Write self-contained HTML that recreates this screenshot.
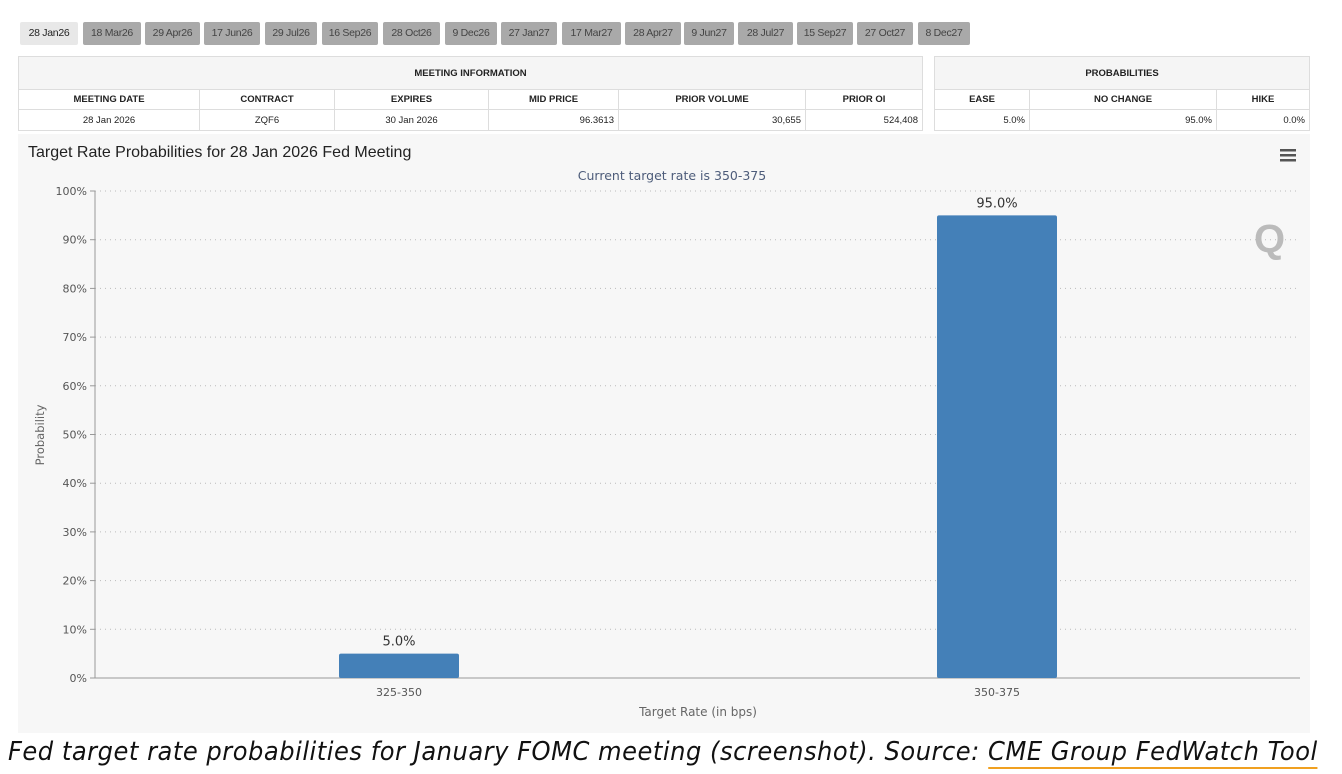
<!DOCTYPE html>
<html><head><meta charset="utf-8"><style>
body{margin:0;width:1342px;height:774px;background:#fff;position:relative;font-family:"Liberation Sans",sans-serif;overflow:hidden}
.tab{position:absolute;top:22px;height:23px;line-height:23px;font-size:10.5px;color:#444;background:#a9a9a9;text-align:center;border-radius:2px;letter-spacing:-0.3px}
.tab.on{background:#e8e8e8;color:#222}
table{position:absolute;border-collapse:collapse;font-size:9.5px;color:#222;background:#fff}
td{border:1px solid #ddd;padding:0 4px}
.h td{font-weight:bold;text-align:center}
</style></head><body>
<div id="tabs"></div>
<table style="left:18px;top:56px;width:905px">
<tr class="h"><td colspan="6" style="height:32px;background:#f5f5f5">MEETING INFORMATION</td></tr>
<tr class="h"><td style="width:172px;height:19px">MEETING DATE</td><td style="width:126px">CONTRACT</td><td style="width:145px">EXPIRES</td><td style="width:121px">MID PRICE</td><td style="width:178px">PRIOR VOLUME</td><td>PRIOR OI</td></tr>
<tr><td style="text-align:center;height:20px">28 Jan 2026</td><td style="text-align:center">ZQF6</td><td style="text-align:center">30 Jan 2026</td><td style="text-align:right">96.3613</td><td style="text-align:right">30,655</td><td style="text-align:right">524,408</td></tr>
</table>
<table style="left:934px;top:56px;width:376px">
<tr class="h"><td colspan="3" style="height:32px;background:#f5f5f5">PROBABILITIES</td></tr>
<tr class="h"><td style="width:86px;height:19px">EASE</td><td style="width:178px">NO CHANGE</td><td>HIKE</td></tr>
<tr><td style="text-align:right;height:20px">5.0%</td><td style="text-align:right">95.0%</td><td style="text-align:right">0.0%</td></tr>
</table>
<svg style="position:absolute;left:0;top:0" width="1342" height="774" id="chart">
<rect x="18" y="134" width="1292" height="599" fill="#f7f7f7"/>
<text x="28" y="157" font-size="16" fill="#222" font-family="Liberation Sans">Target Rate Probabilities for 28 Jan 2026 Fed Meeting</text>
<text x="672" y="180" font-size="12.5" fill="#4d5c7a" text-anchor="middle" font-family="DejaVu Sans">Current target rate is 350-375</text>
<g fill="#555"><rect x="1280" y="149" width="16" height="2.5"/><rect x="1280" y="154" width="16" height="2.5"/><rect x="1280" y="159" width="16" height="2.5"/></g>
<text x="1254" y="252" font-size="40" fill="#bbb" font-family="Liberation Sans" font-weight="bold">Q</text>
<text transform="translate(44,435) rotate(-90)" font-size="11.5" fill="#666" text-anchor="middle" font-family="DejaVu Sans">Probability</text>
<text x="698" y="716" font-size="12" fill="#666" text-anchor="middle" font-family="DejaVu Sans">Target Rate (in bps)</text>
<g id="grid"></g><g id="bars"></g>
</svg>
<div style="position:absolute;left:8px;top:737px;font-size:26px;font-style:italic;color:#111;font-family:'DejaVu Sans',sans-serif;letter-spacing:0.55px;white-space:nowrap;transform:scaleX(0.93);transform-origin:left">Fed target rate probabilities for January FOMC meeting (screenshot). Source: <span style="border-bottom:2px solid #f0a020">CME Group FedWatch Tool</span></div>
<script>
const tabLabels=["28 Jan26","18 Mar26","29 Apr26","17 Jun26","29 Jul26","16 Sep26","28 Oct26","9 Dec26","27 Jan27","17 Mar27","28 Apr27","9 Jun27","28 Jul27","15 Sep27","27 Oct27","8 Dec27"];
const categories=["325-350","350-375"];
const probs=[5.0,95.0];
const yTicks=[0,10,20,30,40,50,60,70,80,90,100];
const tabX=[20,83,145,204,265,322,383,445,501,562,625,684,738,797,857,918];
const tabW=[58,58,55,56,52,56,57,52,56,59,56,50,55,56,56,52];
const tc=document.getElementById('tabs');
tabLabels.forEach((t,i)=>{const d=document.createElement('div');d.className='tab'+(i===0?' on':'');d.style.left=tabX[i]+'px';d.style.width=tabW[i]+'px';d.textContent=t;


tc.appendChild(d);});
const NS="http://www.w3.org/2000/svg";
const X0=95,X1=1300,Y0=678,Y1=191;
const B0=100,B1=1296;
const y=v=>Y0-(v/100)*(Y0-Y1);
const band=(B1-B0)/categories.length;
const xc=i=>B0+band*(i+0.5);
function mk(tag,at,txt){const e=document.createElementNS(NS,tag);for(const k in at)e.setAttribute(k,at[k]);if(txt!==undefined)e.textContent=txt;return e;}
const g=document.getElementById('grid');
yTicks.forEach(t=>{
 if(t>0){const l=mk('line',{x1:X0,x2:X1,y1:y(t),y2:y(t),stroke:'#bbb','stroke-dasharray':'1,4'});
 
 g.appendChild(l);}
 const tk=mk('line',{x1:X0-5,x2:X0,y1:y(t),y2:y(t),stroke:'#999'});g.appendChild(tk);
 const tx=mk('text',{x:X0-8,y:y(t)+4,'font-size':11,fill:'#555','text-anchor':'end','font-family':'DejaVu Sans'},t+'%');
 
 g.appendChild(tx);
});
g.appendChild(mk('line',{x1:X0,x2:X0,y1:Y1,y2:Y0,stroke:'#999'}));
g.appendChild(mk('line',{x1:X0,x2:X1,y1:Y0,y2:Y0,stroke:'#999'}));
const b=document.getElementById('bars');
categories.forEach((c,i)=>{
 const cx=xc(i),w=120;
 const r=mk('rect',{x:cx-w/2,y:y(probs[i]),width:w,height:Y0-y(probs[i]),fill:'#4480b8',rx:2});
 
 b.appendChild(r);
 const lb=mk('text',{x:cx,y:y(probs[i])-8,'font-size':13,fill:'#333','text-anchor':'middle','font-family':'DejaVu Sans'},probs[i].toFixed(1)+'%');
 
 b.appendChild(lb);
 const xl=mk('text',{x:cx,y:Y0+18,'font-size':11,fill:'#555','text-anchor':'middle','font-family':'DejaVu Sans'},c);
 
 b.appendChild(xl);
});
</script>
</body></html>
